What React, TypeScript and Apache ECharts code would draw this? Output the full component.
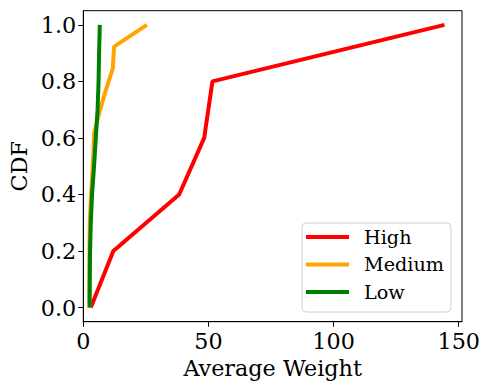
import React, { useEffect, useRef } from "react";
import * as echarts from "echarts";

const seriesNames = ["High", "Medium", "Low"];
const highX = [3.0, 12.0, 38.3, 48.3, 51.6, 144.3];
const highY = [0, 0.2, 0.4, 0.6, 0.8, 1.0];
const mediumX = [2.5, 2.4, 2.4, 2.5, 2.6, 3.0, 3.5, 4.0, 4.3, 6.5, 9.0, 11.8, 12.3, 25.4];
const mediumY = [0, 1 / 13, 2 / 13, 3 / 13, 4 / 13, 5 / 13, 6 / 13, 7 / 13, 8 / 13, 9 / 13, 10 / 13, 11 / 13, 12 / 13, 1];
const lowX = [2.5, 2.6, 2.7, 3.0, 3.5, 4.3, 5.0, 5.7, 6.1, 6.3, 6.6];
const lowY = [0, 0.1, 0.2, 0.3, 0.4, 0.5, 0.6, 0.7, 0.8, 0.9, 1.0];
const xTicks = [0, 50, 100, 150];
const yTicks = [0, 0.2, 0.4, 0.6, 0.8, 1.0];
const colors = ["#ff0000", "#ffa500", "#008000"];

const FONT = "'DejaVu Serif', 'Liberation Serif', serif";
const FS = 22.3;

export default function App() {
  const ref = useRef<HTMLDivElement>(null);
  useEffect(() => {
    if (!ref.current) return;
    const chart = echarts.init(ref.current, null, { renderer: "svg" });
    const toPairs = (xs: number[], ys: number[]) => xs.map((x, i) => [x, ys[i]]);
    const datasets = [toPairs(highX, highY), toPairs(mediumX, mediumY), toPairs(lowX, lowY)];
    chart.setOption({
      animation: false,
      textStyle: { fontFamily: FONT },
      grid: {
        left: 83.3,
        right: 27,
        top: 10.7,
        bottom: 68.3,
        outerBoundsMode: "none",
        containLabel: false,
        show: true,
        borderColor: "#000",
        borderWidth: 1,
        backgroundColor: "transparent",
      },
      xAxis: {
        type: "value",
        min: 0,
        max: 151.3,
        name: "Average Weight",
        nameLocation: "middle",
        nameGap: 35,
        nameTextStyle: { fontFamily: FONT, fontSize: FS, color: "#000" },
        axisLine: { show: true, onZero: false, lineStyle: { color: "#000", width: 1 } },
        axisTick: { show: true, length: 5, customValues: xTicks, lineStyle: { color: "#000" } },
        axisLabel: {
          customValues: xTicks,
          fontFamily: FONT,
          fontSize: FS,
          color: "#000",
          margin: 8,
        },
        splitLine: { show: false },
      },
      yAxis: {
        type: "value",
        min: -0.05,
        max: 1.05,
        name: "CDF",
        nameLocation: "middle",
        nameGap: 52,
        nameTextStyle: { fontFamily: FONT, fontSize: FS, color: "#000" },
        axisLine: { show: true, onZero: false, lineStyle: { color: "#000", width: 1 } },
        axisTick: { show: true, length: 5, customValues: yTicks, lineStyle: { color: "#000" } },
        axisLabel: {
          customValues: yTicks,
          fontFamily: FONT,
          fontSize: FS,
          color: "#000",
          margin: 7,
          formatter: (v: number) => v.toFixed(1),
        },
        splitLine: { show: false },
      },
      legend: {
        orient: "vertical",
        left: 302,
        top: 223,
        data: seriesNames,
        icon: "rect",
        backgroundColor: "#fff",
        borderColor: "#d0d0d0",
        borderWidth: 1,
        borderRadius: 4,
        padding: [4, 7, 10, 4],
        itemWidth: 43,
        itemHeight: 4,
        itemGap: 7.5,
        textStyle: {
          fontFamily: FONT,
          fontSize: 19.2,
          lineHeight: 20,
          color: "#000",
          padding: [0, 0, 0, 10],
        },
      },
      series: seriesNames.map((name, i) => ({
        name,
        type: "line",
        data: datasets[i],
        showSymbol: false,
        symbol: "none",
        color: colors[i],
        lineStyle: { color: colors[i], width: 4 },
        z: 2 + i,
      })),
    });
    return () => chart.dispose();
  }, []);
  return (
    <div
      ref={ref}
      style={{ position: "fixed", left: 0, top: 0, width: 489, height: 390, background: "#fff" }}
    />
  );
}
